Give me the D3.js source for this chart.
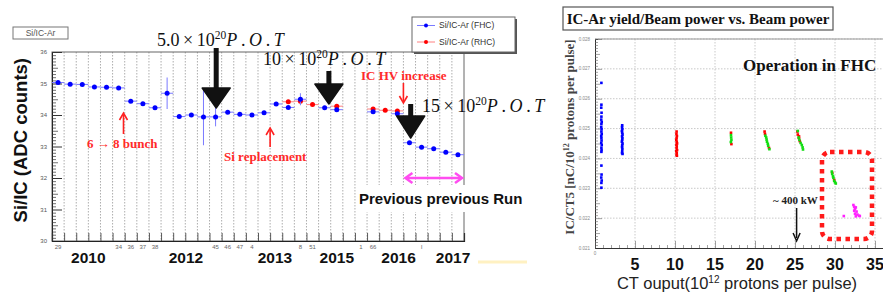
<!DOCTYPE html>
<html>
<head>
<meta charset="utf-8">
<script src="https://cdn.jsdelivr.net/npm/d3@7"></script>
<style>
  body { margin: 0; background: #fff; }
  svg { display: block; }
</style>
</head>
<body>
<svg id="chart" width="883" height="296"></svg>
<script>
// ---------- left panel: Si/IC-Ar per run bin ----------
const nBins = 34;
const fhcBins = [0, 1, 2, 3, 4, 5, 6, 7, 8, 9, 10, 11, 12, 13, 14, 15, 16, 17, 18, 19, 20, 22, 23, 26, 28, 29, 30, 31, 32, 33];
const fhcVals = [35.03, 34.98, 34.97, 34.89, 34.88, 34.86, 34.44, 34.36, 34.23, 34.69, 33.95, 34.00, 33.94, 33.94, 34.09, 34.02, 34.00, 34.07, 34.35, 34.24, 34.50, 34.23, 34.17, 34.10, 34.04, 33.12, 32.98, 32.93, 32.82, 32.74];
const fhcErr  = [0.03, 0.03, 0.03, 0.03, 0.03, 0.03, 0.03, 0.03, 0.03, 0.50, 0.03, 0.03, 0.90, 0.30, 0.03, 0.03, 0.03, 0.03, 0.03, 0.03, 0.19, 0.03, 0.03, 0.03, 0.03, 0.03, 0.03, 0.03, 0.03, 0.03];
const rhcBins = [19, 20, 21, 23, 26, 27, 28];
const rhcVals = [34.42, 34.44, 34.33, 34.28, 34.19, 34.15, 34.13];
const runLabels = ["29", "", "", "", "", "34", "36", "37", "38", "", "", "", "", "45", "46", "47", "4", "", "", "", "8", "51", "", "", "", "1", "66", "", "", "", "l", "", "", ""];
const yearLabels = ["2010", "2012", "2013", "2015", "2016", "2017"];
const yearPos = [3.0, 11.05, 18.4, 23.5, 28.6, 33.1];
const siTicks = [30, 31, 32, 33, 34, 35, 36];

// ---------- right panel: IC/CT5 vs CT output ----------
const icBlue = [
  [0.80, 0.02653], [0.80, 0.02580], [0.78, 0.02570], [0.82, 0.02553], [0.80, 0.02540], [0.78, 0.02530],
  [0.84, 0.02522], [0.80, 0.02515], [0.78, 0.02505], [0.82, 0.02498], [0.80, 0.02490], [0.84, 0.02482],
  [0.78, 0.02475], [0.80, 0.02468], [0.82, 0.02460], [0.78, 0.02452], [0.84, 0.02445], [0.80, 0.02436],
  [0.82, 0.02428], [0.80, 0.02422], [0.80, 0.02376], [0.82, 0.02346], [0.78, 0.02336], [0.84, 0.02326],
  [0.80, 0.02318], [0.80, 0.02302],
  [3.40, 0.02511], [3.38, 0.02505], [3.42, 0.02498], [3.36, 0.02492], [3.40, 0.02486], [3.44, 0.02480],
  [3.38, 0.02474], [3.42, 0.02468], [3.40, 0.02462], [3.36, 0.02456], [3.44, 0.02450], [3.40, 0.02444],
  [3.38, 0.02438], [3.42, 0.02432], [3.40, 0.02424], [3.38, 0.02418], [3.44, 0.02415]
];
const icRed = [
  [10.20, 0.02490], [10.18, 0.02482], [10.24, 0.02475], [10.20, 0.02468], [10.16, 0.02462], [10.22, 0.02456],
  [10.26, 0.02450], [10.18, 0.02446], [10.22, 0.02440], [10.20, 0.02434], [10.26, 0.02428], [10.16, 0.02424],
  [10.22, 0.02418], [10.20, 0.02412], [10.24, 0.02409],
  [17.00, 0.02486], [17.05, 0.02448],
  [21.20, 0.02490], [21.25, 0.02482], [21.75, 0.02435],
  [25.30, 0.02490], [25.35, 0.02480], [25.50, 0.02474], [25.50, 0.02468], [25.60, 0.02458],
  [29.65, 0.02352], [29.90, 0.02328]
];
const icGreen = [
  [17.00, 0.02478], [17.02, 0.02470], [17.05, 0.02462], [16.98, 0.02455],
  [21.30, 0.02476], [21.40, 0.02470], [21.45, 0.02463], [21.50, 0.02456], [21.60, 0.02449], [21.65, 0.02442], [21.80, 0.02431],
  [25.35, 0.02492], [25.45, 0.02470], [25.55, 0.02462], [25.70, 0.02452], [25.85, 0.02445], [25.95, 0.02437], [26.00, 0.02430],
  [29.60, 0.02356], [29.65, 0.02348], [29.75, 0.02340], [29.80, 0.02335], [29.90, 0.02325], [30.00, 0.02320], [30.10, 0.02316]
];
const icMagenta = [
  [31.1, 0.02207], [32.3, 0.02244], [32.4, 0.02238], [32.5, 0.02230], [32.6, 0.02236], [32.4, 0.02225],
  [32.7, 0.02222], [32.5, 0.02215], [32.8, 0.02212], [33.0, 0.02208], [32.6, 0.02206], [33.1, 0.02207]
];
const ctTicks = [5, 10, 15, 20, 25, 30, 35];
const icTicks = [0.021, 0.022, 0.023, 0.024, 0.025, 0.026, 0.027, 0.028];

const svg = d3.select('#chart');
svg.append("rect").attr("width", 883).attr("height", 296).attr("fill", "#fff");

const sans = "'Liberation Sans', Arial, sans-serif";
const serif = "'Liberation Serif', 'Times New Roman', serif";

// ===================== LEFT PANEL =====================
const binX = d3.scaleLinear().domain([0, nBins]).range([52, 464]);
const siY = d3.scaleLinear().domain([30, 36]).range([241, 52]);
const left = svg.append("g");

// dotted grid at bin edges
left.append("g").selectAll("line")
  .data(d3.range(1, nBins))
  .join("line")
  .attr("x1", d => binX(d)).attr("x2", d => binX(d))
  .attr("y1", siY(36)).attr("y2", siY(30))
  .attr("stroke", "#8a8a8a").attr("stroke-width", 0.7)
  .attr("stroke-dasharray", "1.5,1.5");

// frame
left.append("rect")
  .attr("x", binX(0)).attr("y", siY(36))
  .attr("width", binX(nBins) - binX(0)).attr("height", siY(30) - siY(36))
  .attr("fill", "none").attr("stroke", "#666").attr("stroke-width", 1);

// y axis (ticks inside)
const siAxis = d3.axisRight(siY).tickValues(d3.range(30, 36.001, 0.1)).tickSize(4).tickFormat("");
left.append("g").attr("transform", `translate(${binX(0)},0)`).call(siAxis)
  .call(g => g.select(".domain").attr("stroke", "#222"))
  .call(g => g.selectAll(".tick line").attr("stroke", "#333").attr("stroke-width", 0.7))
  .call(g => g.selectAll(".tick").filter(d => Math.abs(d - Math.round(d)) < 1e-6).select("line").attr("x2", 10).attr("stroke-width", 1))
  .call(g => g.selectAll(".tick").filter(d => Math.abs(Math.abs(d - Math.round(d)) - 0.5) < 1e-6).select("line").attr("x2", 6));
left.append("g").selectAll("text")
  .data(siTicks)
  .join("text")
  .attr("x", 47).attr("y", d => siY(d)).attr("dy", "0.35em")
  .attr("text-anchor", "end").attr("font-family", sans).attr("font-size", 6).attr("fill", "#555")
  .text(d => d);

// x axis (ticks at bin edges)
const binAxis = d3.axisTop(binX).tickValues(d3.range(0, nBins + 1)).tickSize(8).tickFormat("");
left.append("g").attr("transform", `translate(0,${siY(30)})`).call(binAxis)
  .call(g => g.select(".domain").attr("stroke", "#222").attr("stroke-width", 1.2))
  .call(g => g.selectAll(".tick line").attr("stroke", "#333").attr("stroke-width", 0.8));
left.append("g").selectAll("text")
  .data(runLabels)
  .join("text")
  .attr("x", (d, i) => binX(i + 0.5)).attr("y", 249)
  .attr("text-anchor", "middle").attr("font-family", sans).attr("font-size", 6).attr("fill", "#666")
  .text(d => d);
left.append("g").selectAll("text")
  .data(yearLabels)
  .join("text")
  .attr("x", (d, i) => binX(yearPos[i])).attr("y", 263)
  .attr("text-anchor", "middle").attr("font-family", sans).attr("font-weight", "bold")
  .attr("font-size", 15.5).attr("fill", "#111")
  .text(d => d);

// y title
left.append("text")
  .attr("transform", `translate(27,${siY(33.2)}) rotate(-90)`)
  .attr("text-anchor", "middle").attr("font-family", sans).attr("font-weight", "bold")
  .attr("font-size", 18.5).attr("fill", "#111")
  .text("Si/IC (ADC counts)");

// panel title box
left.append("rect").attr("x", 13).attr("y", 27).attr("width", 55).attr("height", 12)
  .attr("fill", "#fff").attr("stroke", "#777").attr("stroke-width", 1);
left.append("text").attr("x", 40.5).attr("y", 33).attr("dy", "0.36em")
  .attr("text-anchor", "middle").attr("font-family", sans).attr("font-size", 8.5).attr("fill", "#555")
  .text("Si/IC-Ar");

// data series with bin-wide horizontal bars and vertical errors
function drawSeries(bins, vals, errs, colour, light) {
  const g = left.append("g");
  g.selectAll(".hbar").data(bins).join("line").attr("class", "hbar")
    .attr("x1", d => binX(d)).attr("x2", d => binX(d + 1))
    .attr("y1", (d, i) => siY(vals[i])).attr("y2", (d, i) => siY(vals[i]))
    .attr("stroke", light).attr("stroke-width", 1);
  if (errs) {
    g.selectAll(".vbar").data(bins).join("line").attr("class", "vbar")
      .attr("x1", d => binX(d + 0.5)).attr("x2", d => binX(d + 0.5))
      .attr("y1", (d, i) => siY(vals[i] + errs[i])).attr("y2", (d, i) => siY(vals[i] - errs[i]))
      .attr("stroke", light).attr("stroke-width", 1);
  }
  g.selectAll("circle").data(bins).join("circle")
    .attr("cx", d => binX(d + 0.5)).attr("cy", (d, i) => siY(vals[i]))
    .attr("r", 2.5).attr("fill", colour);
}
drawSeries(rhcBins, rhcVals, null, "#ff0000", "#ff8080");
drawSeries(fhcBins, fhcVals, fhcErr, "#0000ff", "#7a7aff");

// legend
const lg = left.append("g");
lg.append("rect").attr("x", 414).attr("y", 19).attr("width", 103).attr("height", 35).attr("fill", "#555");
lg.append("rect").attr("x", 412).attr("y", 17).attr("width", 103).attr("height", 35)
  .attr("fill", "#fff").attr("stroke", "#666").attr("stroke-width", 1);
[["Si/IC-Ar (FHC)", "#0000ff", "#7a7aff", 25.5], ["Si/IC-Ar (RHC)", "#ff0000", "#ff8080", 42]].forEach(([label, c, lc, y]) => {
  lg.append("line").attr("x1", 417).attr("x2", 435).attr("y1", y).attr("y2", y).attr("stroke", lc);
  lg.append("circle").attr("cx", 426).attr("cy", y).attr("r", 2).attr("fill", c);
  lg.append("text").attr("x", 439).attr("y", y).attr("dy", "0.35em")
    .attr("font-family", sans).attr("font-size", 8.5).attr("fill", "#333").text(label);
});

// big black POT arrows
function potArrow(xBin, textX, textY, shaftTop, headTop, tip, halfW, lead) {
  const cx = binX(xBin);
  const t = left.append("text").attr("x", textX).attr("y", textY)
    .attr("font-family", serif).attr("font-size", 18).attr("fill", "#111");
  t.append("tspan").text(lead + "\u2009×\u200910");
  t.append("tspan").attr("dy", -7).attr("font-size", 11.5).text("20");
  t.append("tspan").attr("dy", 7).attr("font-style", "italic").text("P");
  t.append("tspan").text("\u2009.\u2009");
  t.append("tspan").attr("font-style", "italic").text("O");
  t.append("tspan").text("\u2009.\u2009");
  t.append("tspan").attr("font-style", "italic").text("T");
  left.append("rect").attr("x", cx - 2.5).attr("y", shaftTop).attr("width", 5).attr("height", headTop - shaftTop + 2).attr("fill", "#111");
  left.append("path")
    .attr("d", `M${cx - halfW},${headTop} L${cx + halfW},${headTop} L${cx},${tip} Z`)
    .attr("fill", "#111").attr("stroke", "#111").attr("stroke-width", 1.5).attr("stroke-linejoin", "round");
}
potArrow(13.55, 157, 46, 48, 88, 108, 14, "5.0");
potArrow(22.85, 263, 65, 71, 84, 104, 14, "10");
potArrow(29.6, 422, 112, 104, 116, 138, 14, "15");

// red annotations
function redArrow(x, yFrom, yTo) {
  const dir = yTo < yFrom ? 1 : -1;
  left.append("line").attr("x1", x).attr("x2", x).attr("y1", yFrom).attr("y2", yTo + dir * 2)
    .attr("stroke", "#ff2020").attr("stroke-width", 1.6);
  left.append("path")
    .attr("d", `M${x - 4},${yTo + dir * 7} L${x},${yTo} L${x + 4},${yTo + dir * 7}`)
    .attr("fill", "none").attr("stroke", "#ff2020").attr("stroke-width", 1.6);
}
redArrow(binX(5.9), 134, 113);
redArrow(binX(18), 147, 128);
redArrow(binX(29), 83, 103);
const redLabel = (x, y, s) => left.append("text").attr("x", x).attr("y", y)
  .attr("font-family", serif).attr("font-weight", "bold").attr("font-size", 13).attr("fill", "#ff2a2a").text(s);
redLabel(87, 148, "6 → 8 bunch");
redLabel(224, 161, "Si replacement");
redLabel(361, 80, "IC HV increase");

// previous run span
left.append("line").attr("x1", binX(29) + 3).attr("x2", binX(34) - 3).attr("y1", 178).attr("y2", 178)
  .attr("stroke", "#ff4df0").attr("stroke-width", 2.5);
left.append("path").attr("d", `M${binX(29) + 9},173 L${binX(29) + 2},178 L${binX(29) + 9},183`)
  .attr("fill", "none").attr("stroke", "#ff4df0").attr("stroke-width", 2.5);
left.append("path").attr("d", `M${binX(34) - 9},173 L${binX(34) - 2},178 L${binX(34) - 9},183`)
  .attr("fill", "none").attr("stroke", "#ff4df0").attr("stroke-width", 2.5);
left.append("rect").attr("x", 356).attr("y", 185).attr("width", 166).attr("height", 27).attr("fill", "#fff");
left.append("text").attr("x", 359).attr("y", 204)
  .attr("font-family", sans).attr("font-weight", "bold").attr("font-size", 15).attr("fill", "#111")
  .text("Previous previous Run");
left.append("line").attr("x1", 478).attr("x2", 527).attr("y1", 262).attr("y2", 262)
  .attr("stroke", "#fff1c2").attr("stroke-width", 3);

// ===================== RIGHT PANEL =====================
const ctX = d3.scaleLinear().domain([0, 36]).range([595, 883]);
const icY = d3.scaleLinear().domain([0.021, 0.028]).range([248, 39]);
const right = svg.append("g");

// grid
right.append("g").selectAll("line").data(ctTicks).join("line")
  .attr("x1", d => ctX(d)).attr("x2", d => ctX(d)).attr("y1", icY(0.028)).attr("y2", icY(0.021))
  .attr("stroke", "#bbb").attr("stroke-width", 0.8).attr("stroke-dasharray", "1.5,1.5");
right.append("g").selectAll("line").data(icTicks.slice(1)).join("line")
  .attr("x1", ctX(0)).attr("x2", ctX(36)).attr("y1", d => icY(d)).attr("y2", d => icY(d))
  .attr("stroke", "#bbb").attr("stroke-width", 0.8).attr("stroke-dasharray", "1.5,1.5");
right.append("line").attr("x1", ctX(0)).attr("x2", ctX(36)).attr("y1", icY(0.028)).attr("y2", icY(0.028))
  .attr("stroke", "#999").attr("stroke-width", 1);

// axes
const icAxis = d3.axisRight(icY).tickValues(d3.range(0.021, 0.02801, 0.0001)).tickSize(3).tickFormat("");
right.append("g").attr("transform", `translate(${ctX(0)},0)`).call(icAxis)
  .call(g => g.select(".domain").attr("stroke", "#333"))
  .call(g => g.selectAll(".tick line").attr("stroke", "#666").attr("stroke-width", 0.6))
  .call(g => g.selectAll(".tick").filter((d, i) => i % 10 === 0).select("line").attr("x2", 7))
  .call(g => g.selectAll(".tick").filter((d, i) => i % 10 === 5).select("line").attr("x2", 5));
right.append("g").selectAll("text").data(icTicks).join("text")
  .attr("x", 590).attr("y", d => icY(d)).attr("dy", "0.35em").attr("text-anchor", "end")
  .attr("font-family", sans).attr("font-size", 4.5).attr("fill", "#888")
  .text(d => d3.format(".3f")(d));

const ctAxis = d3.axisTop(ctX).tickValues(d3.range(0, 37, 1)).tickSize(3).tickFormat("");
right.append("g").attr("transform", `translate(0,${icY(0.021)})`).call(ctAxis)
  .call(g => g.select(".domain").attr("stroke", "#333"))
  .call(g => g.selectAll(".tick line").attr("stroke", "#666").attr("stroke-width", 0.6))
  .call(g => g.selectAll(".tick").filter(d => d % 5 === 0).select("line").attr("y2", -7));
right.append("text").attr("x", ctX(0)).attr("y", 255).attr("text-anchor", "middle")
  .attr("font-family", sans).attr("font-size", 4.5).attr("fill", "#888").text("0");
right.append("g").selectAll("text").data(ctTicks).join("text")
  .attr("x", d => ctX(d)).attr("y", 270).attr("text-anchor", "middle")
  .attr("font-family", sans).attr("font-weight", "bold").attr("font-size", 16).attr("fill", "#111")
  .text(d => d);

// titles
right.append("text").attr("x", 737).attr("y", 289).attr("text-anchor", "middle")
  .attr("font-family", sans).attr("font-size", 16.5).attr("fill", "#222")
  .call(t => {
    t.append("tspan").text("CT ouput(10");
    t.append("tspan").attr("dy", -6).attr("font-size", 10).text("12");
    t.append("tspan").attr("dy", 6).text(" protons per pulse)");
  });
right.append("text").attr("transform", `translate(574,137) rotate(-90)`).attr("text-anchor", "middle")
  .attr("font-family", serif).attr("font-weight", "bold").attr("font-size", 13).attr("fill", "#444")
  .call(t => {
    t.append("tspan").text("IC/CT5 [nC/10");
    t.append("tspan").attr("dy", -5).attr("font-size", 8).text("12");
    t.append("tspan").attr("dy", 5).text(" protons per pulse]");
  });
right.append("rect").attr("x", 563).attr("y", 7).attr("width", 270).attr("height", 23)
  .attr("fill", "#fff").attr("stroke", "#555").attr("stroke-width", 1.2);
right.append("text").attr("x", 698).attr("y", 23.5).attr("text-anchor", "middle")
  .attr("font-family", serif).attr("font-weight", "bold").attr("font-size", 15).attr("fill", "#111")
  .text("IC-Ar yield/Beam power vs. Beam power");
right.append("text").attr("x", 743).attr("y", 71)
  .attr("font-family", serif).attr("font-weight", "bold").attr("font-size", 17).attr("fill", "#111")
  .text("Operation in FHC");

// points
function drawPts(data, colour) {
  right.append("g").selectAll("rect").data(data).join("rect")
    .attr("x", d => ctX(d[0]) - 1.3).attr("y", d => icY(d[1]) - 1.3)
    .attr("width", 2.6).attr("height", 2.6).attr("fill", colour);
}
drawPts(icBlue, "#0000ff");
drawPts(icRed, "#ff0000");
drawPts(icGreen, "#11dd11");
drawPts(icMagenta, "#ff22ff");

// 400 kW marker
right.append("text").attr("x", 773).attr("y", 204)
  .attr("font-family", serif).attr("font-weight", "bold").attr("font-size", 11).attr("fill", "#222")
  .text("~ 400 kW");
right.append("line").attr("x1", ctX(25.2)).attr("x2", ctX(25.2)).attr("y1", 208).attr("y2", 238)
  .attr("stroke", "#111").attr("stroke-width", 1.5);
right.append("path").attr("d", `M${ctX(25.2) - 3.5},233 L${ctX(25.2)},241 L${ctX(25.2) + 3.5},233`)
  .attr("fill", "none").attr("stroke", "#111").attr("stroke-width", 1.5);

// highlight box
right.append("rect").attr("x", 822).attr("y", 152).attr("width", 50).attr("height", 87).attr("rx", 8)
  .attr("fill", "none").attr("stroke", "#ff1a1a").attr("stroke-width", 4.5).attr("stroke-dasharray", "4.5,4.5");
</script>
</body>
</html>
